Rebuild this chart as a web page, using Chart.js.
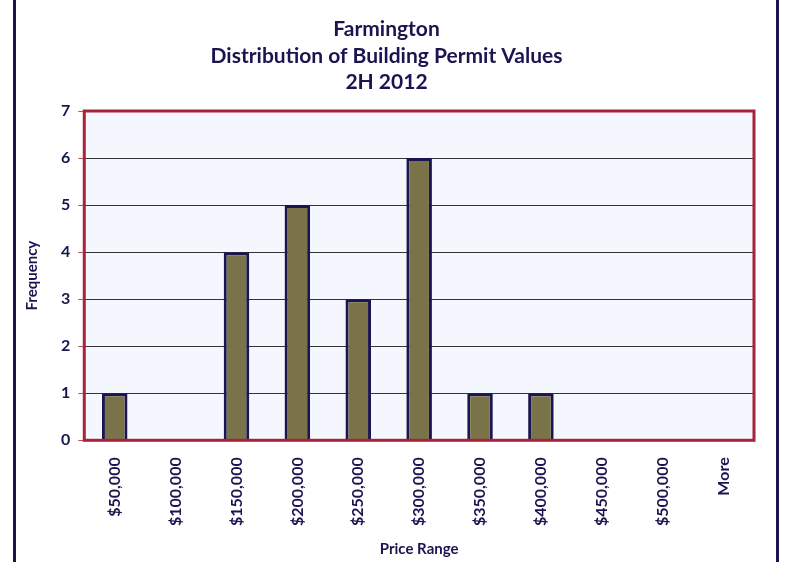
<!DOCTYPE html>
<html>
<head>
<meta charset="utf-8">
<script src="https://cdn.jsdelivr.net/npm/chart.js@4"></script>
<style>
  html, body { margin: 0; padding: 0; background: #fff; }
  #wrap { position: relative; width: 785px; height: 562px; }
  #wrap:before, #wrap:after {
    content: ''; position: absolute; top: 0; bottom: 0; width: 3px; background: #1a1450;
  }
  #wrap:before { left: 13px; }
  #wrap:after { left: 776px; }
</style>
</head>
<body>
<div id="wrap"><canvas id="myChart" width="785" height="562"></canvas></div>
<script>
// price bins and counts
var priceBins = ['$50,000', '$100,000', '$150,000', '$200,000', '$250,000', '$300,000',
                 '$350,000', '$400,000', '$450,000', '$500,000', 'More'];
var frequency = [1, 0, 4, 5, 3, 6, 1, 1, 0, 0, 0];
var titleLines = ['Farmington', 'Distribution of Building Permit Values', '2H 2012'];

var navy = '#1a1450';
var fontFam = 'Lato, "Open Sans", sans-serif';

// plot background + red frame
var plotFrame = {
  id: 'plotFrame',
  beforeDraw: function(chart) {
    var a = chart.chartArea, c = chart.ctx;
    c.save();
    c.fillStyle = '#f4f8fe';
    c.fillRect(a.left, a.top, a.right - a.left, a.bottom - a.top);
    c.restore();
  },
  afterDraw: function(chart) {
    var a = chart.chartArea, c = chart.ctx;
    c.save();
    c.strokeStyle = '#a8223a';
    c.lineWidth = 3;
    c.strokeRect(a.left, a.top, a.right - a.left, a.bottom - a.top);
    c.restore();
  }
};

var ctx = document.getElementById('myChart').getContext('2d');
new Chart(ctx, {
  type: 'bar',
  data: {
    labels: priceBins,
    datasets: [{
      data: frequency,
      backgroundColor: '#7a7349',
      borderColor: navy,
      borderWidth: 3,
      barPercentage: 0.42,
      categoryPercentage: 1
    }]
  },
  options: {
    responsive: false,
    animation: false,
    layout: { padding: { left: 19, right: 31, top: 8, bottom: 0 } },
    plugins: {
      legend: { display: false },
      tooltip: { enabled: false },
      title: {
        display: true,
        text: titleLines,
        color: navy,
        font: { family: fontFam, size: 21, weight: 'bold', lineHeight: 1.27 },
        padding: { top: 8, bottom: 15 }
      }
    },
    scales: {
      x: {
        grid: { display: false },
        border: { display: false },
        ticks: {
          color: navy,
          font: { family: fontFam, size: 16, weight: 'bold' },
          minRotation: 90, maxRotation: 90,
          padding: 9
        },
        title: {
          display: true, text: 'Price Range', color: navy,
          font: { family: fontFam, size: 15, weight: 'bold' },
          padding: { top: 5 }
        }
      },
      y: {
        min: 0, max: 7,
        ticks: {
          stepSize: 1, color: navy,
          font: { family: fontFam, size: 16, weight: 'bold' },
          padding: 8
        },
        grid: { color: '#333', lineWidth: 1, tickColor: '#c05060', tickLength: 6 },
        border: { display: false },
        title: {
          display: true, text: 'Frequency', color: navy,
          font: { family: fontFam, size: 15, weight: 'bold' },
          padding: { bottom: 12 }
        }
      }
    }
  },
  plugins: [plotFrame]
});
</script>
</body>
</html>
